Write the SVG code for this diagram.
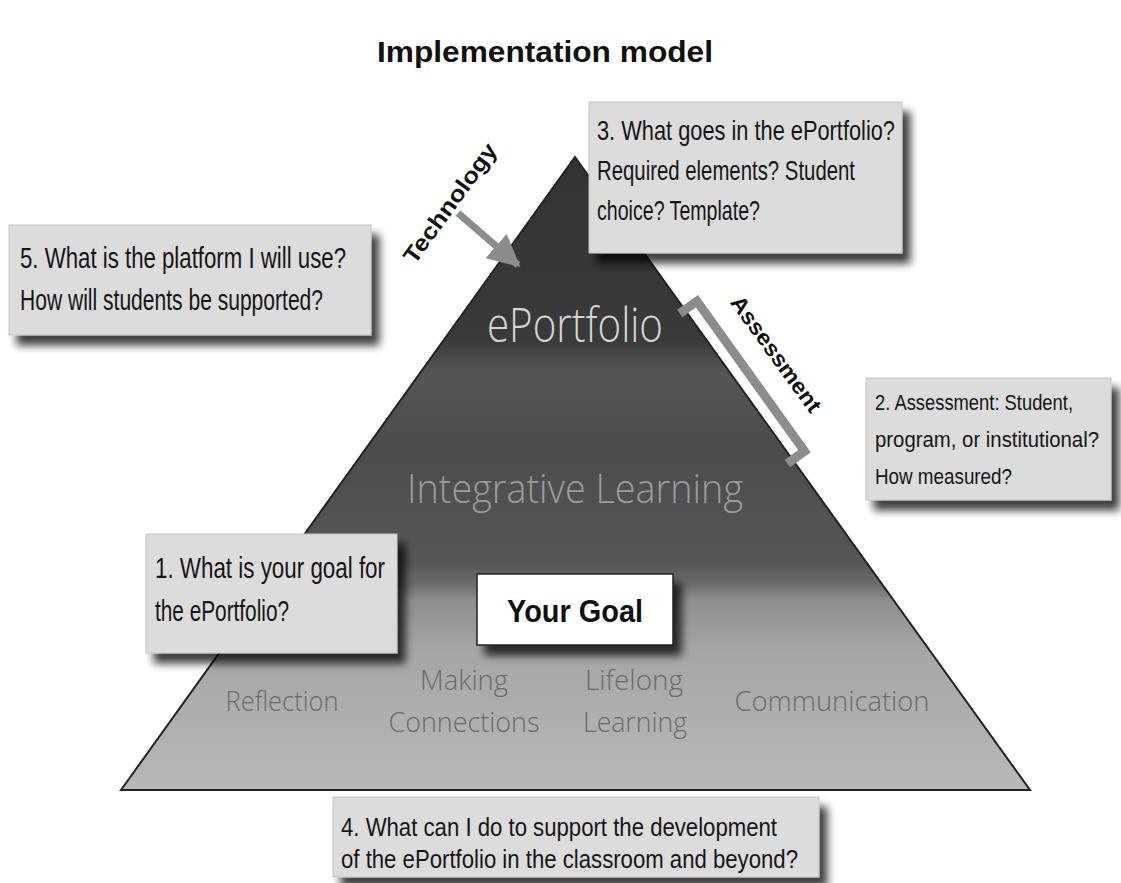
<svg xmlns="http://www.w3.org/2000/svg" width="1121" height="883" viewBox="0 0 1121 883">
<defs>
<linearGradient id="tri" gradientUnits="userSpaceOnUse" x1="0" y1="157" x2="0" y2="790">
<stop offset="0" stop-color="#333"/>
<stop offset="0.29" stop-color="#3a3a3a"/>
<stop offset="0.34" stop-color="#555"/>
<stop offset="0.46" stop-color="#4c4c4c"/>
<stop offset="0.64" stop-color="#565656"/>
<stop offset="0.675" stop-color="#6c6c6c"/>
<stop offset="0.70" stop-color="#8e8e8e"/>
<stop offset="0.78" stop-color="#a6a6a6"/>
<stop offset="1" stop-color="#b8b8b8"/>
</linearGradient>
<filter id="sh" x="-10%" y="-15%" width="130%" height="145%">
<feGaussianBlur in="SourceAlpha" stdDeviation="4"/>
<feOffset dx="8" dy="10"/>
<feComponentTransfer><feFuncA type="linear" slope="0.75"/></feComponentTransfer>
<feMerge><feMergeNode/><feMergeNode in="SourceGraphic"/></feMerge>
</filter>
<marker id="ah" viewBox="0 0 10 10" refX="9" refY="5" markerWidth="4.6" markerHeight="4.6" markerUnits="strokeWidth" orient="auto">
<path d="M0,0 L10,5 L0,10 Z" fill="#8c8c8c"/>
</marker>
<style>
.box{fill:#dcdcdc;stroke:#c4c4c4;stroke-width:1}
.q{font-family:"Liberation Sans",Arial,sans-serif;fill:#151515}
.lt{font-family:"Open Sans","Lato","Liberation Sans",sans-serif;font-weight:300}
.bl{font-family:"Liberation Sans",Arial,sans-serif;font-weight:bold;fill:#111}
.low{fill:#6a6a6a;font-size:27px}
</style>
</defs>
<rect width="1121" height="883" fill="#fff"/>
<text x="545" y="62" text-anchor="middle" class="bl" font-size="30" fill="#000" textLength="336" lengthAdjust="spacingAndGlyphs">Implementation model</text>

<g id="pyramid">
<polygon points="575,157 1030,790 121,790" fill="url(#tri)" stroke="#222" stroke-width="2" stroke-linejoin="miter"/>
<text x="575" y="342" text-anchor="middle" class="lt" font-size="48" fill="#d6d6d6" textLength="176" lengthAdjust="spacingAndGlyphs">ePortfolio</text>
<text x="575" y="503" text-anchor="middle" class="lt" font-size="40" fill="#9c9c9c" textLength="336" lengthAdjust="spacingAndGlyphs">Integrative Learning</text>
<text x="282" y="711" text-anchor="middle" class="lt low" textLength="113" lengthAdjust="spacingAndGlyphs">Reflection</text>
<text x="464" y="690" text-anchor="middle" class="lt low" textLength="88" lengthAdjust="spacingAndGlyphs">Making</text>
<text x="464" y="732" text-anchor="middle" class="lt low" textLength="151" lengthAdjust="spacingAndGlyphs">Connections</text>
<text x="634" y="690" text-anchor="middle" class="lt low" textLength="98" lengthAdjust="spacingAndGlyphs">Lifelong</text>
<text x="635" y="732" text-anchor="middle" class="lt low" textLength="104" lengthAdjust="spacingAndGlyphs">Learning</text>
<text x="832" y="711" text-anchor="middle" class="lt low" textLength="195" lengthAdjust="spacingAndGlyphs">Communication</text>
</g>

<g id="connectors">
<line x1="458" y1="213" x2="518" y2="265" stroke="#8c8c8c" stroke-width="7" marker-end="url(#ah)"/>
<polyline points="679.8,313.5 696.9,301.2 804.5,451.2 787.4,463.5" fill="none" stroke="#8c8c8c" stroke-width="9" stroke-linejoin="miter"/>
</g>

<g id="technology-label">
<text transform="translate(450,203) rotate(-54)" text-anchor="middle" dominant-baseline="central" class="bl" font-size="23" textLength="142" lengthAdjust="spacingAndGlyphs">Technology</text>
</g>
<g id="assessment-label">
<text transform="translate(776,354) rotate(54)" text-anchor="middle" dominant-baseline="central" class="bl" font-size="22" textLength="138" lengthAdjust="spacingAndGlyphs">Assessment</text>
</g>

<g id="q5">
<rect class="box" x="9" y="225" width="362" height="110" filter="url(#sh)"/>
<text class="q" font-size="29" x="20" y="268" textLength="326" lengthAdjust="spacingAndGlyphs">5. What is the platform I will use?</text>
<text class="q" font-size="29" x="20" y="310" textLength="303" lengthAdjust="spacingAndGlyphs">How will students be supported?</text>
</g>

<g id="q3">
<rect class="box" x="589" y="102" width="313" height="151" filter="url(#sh)"/>
<text class="q" font-size="28" x="597" y="140" textLength="298" lengthAdjust="spacingAndGlyphs">3. What goes in the ePortfolio?</text>
<text class="q" font-size="28" x="597" y="180" textLength="258" lengthAdjust="spacingAndGlyphs">Required elements? Student</text>
<text class="q" font-size="28" x="597" y="220" textLength="163" lengthAdjust="spacingAndGlyphs">choice? Template?</text>
</g>

<g id="q2">
<rect class="box" x="866" y="378" width="245" height="122" filter="url(#sh)"/>
<text class="q" font-size="22" x="875" y="410" textLength="198" lengthAdjust="spacingAndGlyphs">2. Assessment: Student,</text>
<text class="q" font-size="22" x="875" y="447" textLength="224" lengthAdjust="spacingAndGlyphs">program, or institutional?</text>
<text class="q" font-size="22" x="875" y="484" textLength="137" lengthAdjust="spacingAndGlyphs">How measured?</text>
</g>

<g id="q1">
<rect class="box" x="146" y="534" width="251" height="119" filter="url(#sh)"/>
<text class="q" font-size="29" x="155" y="578" textLength="230" lengthAdjust="spacingAndGlyphs">1. What is your goal for</text>
<text class="q" font-size="29" x="155" y="621" textLength="134" lengthAdjust="spacingAndGlyphs">the ePortfolio?</text>
</g>

<g id="goal">
<rect x="477" y="574" width="196" height="71" fill="#fff" stroke="#222" stroke-width="1.5" filter="url(#sh)"/>
<text x="575" y="622" text-anchor="middle" class="bl" font-size="32" textLength="136" lengthAdjust="spacingAndGlyphs">Your Goal</text>
</g>

<g id="q4">
<rect class="box" x="333" y="797" width="486" height="80" filter="url(#sh)"/>
<text class="q" font-size="26" x="341" y="836" textLength="436" lengthAdjust="spacingAndGlyphs">4. What can I do to support the development</text>
<text class="q" font-size="26" x="341" y="868" textLength="457" lengthAdjust="spacingAndGlyphs">of the ePortfolio in the classroom and beyond?</text>
</g>
</svg>
